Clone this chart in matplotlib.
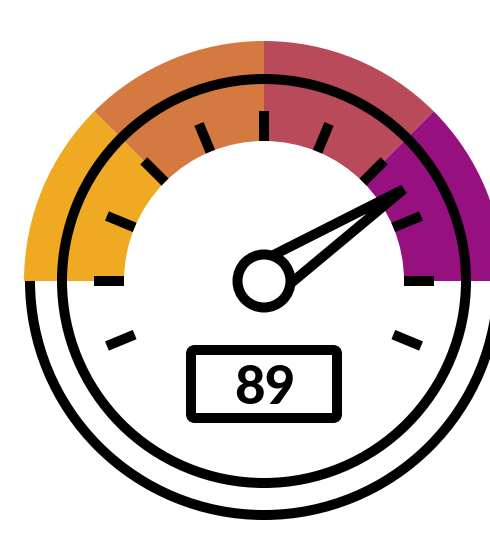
import numpy as np
import matplotlib
matplotlib.use("Agg")
import matplotlib.pyplot as plt
from matplotlib.patches import Wedge, Arc, Circle, Polygon, FancyBboxPatch

# gauge data
value = 89
needle_deg = 33.3            # needle direction, degrees from the right horizontal
band_edges = [180, 135, 90, 45, 0]
band_colors = ["#EFA922", "#D47A40", "#B84A5A", "#961080"]
tick_angles = np.arange(-22.5, 202.6, 22.5)

W, H, DPI = 490, 533, 100
def pt(px):
    return px * 72 / DPI

fig = plt.figure(figsize=(W / DPI, H / DPI), dpi=DPI)
ax = fig.add_axes([0, 0, 1, 1])
ax.set_xlim(0, W)
ax.set_ylim(0, H)
ax.set_aspect("equal")
ax.axis("off")

cx, cy = 264, H - 281
lw = pt(10)

# coloured band
for i, c in enumerate(band_colors):
    ax.add_patch(Wedge((cx, cy), 240, band_edges[i + 1], band_edges[i],
                       width=100, facecolor=c, edgecolor="none", zorder=1))

# outer lower arc and inner ring
ax.add_patch(Arc((cx, cy), 2 * 234, 2 * 234, theta1=180, theta2=360,
                 lw=lw, color="black", zorder=2))
ax.add_patch(Circle((cx, cy), 202, fill=False, lw=lw, edgecolor="black", zorder=2))

# ticks
for a in tick_angles:
    t = np.radians(a)
    ax.plot([cx + 140 * np.cos(t), cx + 170 * np.cos(t)],
            [cy + 140 * np.sin(t), cy + 170 * np.sin(t)],
            color="black", lw=lw, solid_capstyle="butt", zorder=3)

# needle
t = np.radians(needle_deg)
u = np.array([np.cos(t), np.sin(t)])
n = np.array([-np.sin(t), np.cos(t)])
c0 = np.array([cx, cy])
tip = c0 + 167 * u
verts = [c0 + 19 * n, tip, c0 - 19 * n]
ax.add_patch(Polygon(verts, closed=True, fill=False, edgecolor="black",
                     lw=lw, joinstyle="bevel", zorder=4))
ax.add_patch(Circle((cx, cy), 26.5, facecolor="white", edgecolor="black",
                    lw=lw, zorder=5))

# value box
bx0, bx1 = 191, 337
by0, by1 = H - 418, H - 350
ax.add_patch(FancyBboxPatch((bx0 + 4, by0 + 4), bx1 - bx0 - 8, by1 - by0 - 8,
                            boxstyle="round,pad=4", facecolor="white",
                            edgecolor="black", lw=lw, zorder=4))
ax.text(265, H - 388, str(value), ha="center", va="center", fontsize=38,
        fontweight="black", family=["Lato", "DejaVu Sans"], zorder=6)

fig.savefig("out.png", dpi=DPI, facecolor="white")
